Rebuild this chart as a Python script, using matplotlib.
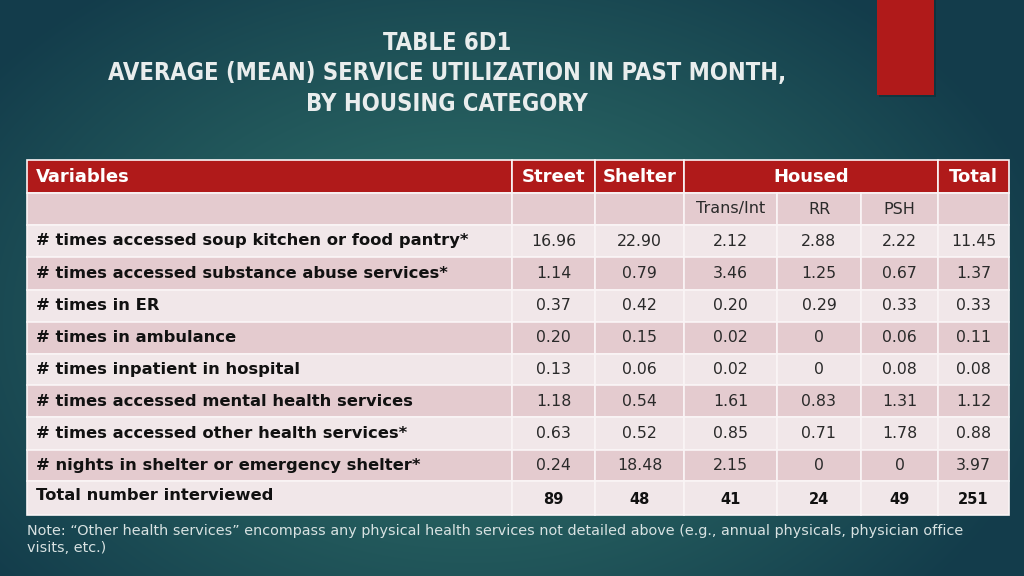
import numpy as np
import matplotlib
matplotlib.use("Agg")
import matplotlib.pyplot as plt
from matplotlib.patches import Rectangle
from matplotlib import font_manager

# ---------------- data ----------------
title_lines = ["TABLE 6D1",
               "AVERAGE (MEAN) SERVICE UTILIZATION IN PAST MONTH,",
               "BY HOUSING CATEGORY"]
variables = ["# times accessed soup kitchen or food pantry*",
             "# times accessed substance abuse services*",
             "# times in ER",
             "# times in ambulance",
             "# times inpatient in hospital",
             "# times accessed mental health services",
             "# times accessed other health services*",
             "# nights in shelter or emergency shelter*"]
street  = ["16.96", "1.14", "0.37", "0.20", "0.13", "1.18", "0.63", "0.24"]
shelter = ["22.90", "0.79", "0.42", "0.15", "0.06", "0.54", "0.52", "18.48"]
trans   = ["2.12", "3.46", "0.20", "0.02", "0.02", "1.61", "0.85", "2.15"]
rr      = ["2.88", "1.25", "0.29", "0", "0", "0.83", "0.71", "0"]
psh     = ["2.22", "0.67", "0.33", "0.06", "0.08", "1.31", "1.78", "0"]
total   = ["11.45", "1.37", "0.33", "0.11", "0.08", "1.12", "0.88", "3.97"]
total_label = "Total number interviewed"
n_interviewed = ["89", "48", "41", "24", "49", "251"]
header_top = ["Variables", "Street", "Shelter", "Housed", "Total"]
sub_header = ["Trans/Int", "RR", "PSH"]
note = ("Note: \u201cOther health services\u201d encompass any physical health services not detailed above (e.g., annual physicals, physician office\n"
        "visits, etc.)")

# ---------------- layout (pixels) ----------------
W, H = 1024, 576
fig = plt.figure(figsize=(W / 100, H / 100), dpi=100)
ax = fig.add_axes([0, 0, 1, 1])
ax.set_xlim(0, W)
ax.set_ylim(H, 0)
ax.axis("off")

# background radial gradient
yy, xx = np.mgrid[0:H, 0:W]
d = np.sqrt(((xx - 470) / 600.0) ** 2 + ((yy - 320) / 420.0) ** 2)
t = np.clip(d, 0, 1) ** 1.2
c_in = np.array([0x30, 0x72, 0x6A]) / 255
c_out = np.array([0x13, 0x3C, 0x4B]) / 255
img = c_in[None, None, :] * (1 - t[..., None]) + c_out[None, None, :] * t[..., None]
ax.imshow(img, extent=(0, W, H, 0), zorder=0, aspect="auto")

# red accent block with shadow
ax.add_patch(Rectangle((879, 0), 57, 97, color="#0d2a33", alpha=0.5, zorder=1, lw=0))
ax.add_patch(Rectangle((877, 0), 57, 95, color="#B01A1A", zorder=2, lw=0))

# title font: prefer a narrow face if available
avail = {f.name for f in font_manager.fontManager.ttflist}
if "Liberation Sans Narrow" in avail:
    tfam, tsize, tstretch = ["Liberation Sans Narrow", "DejaVu Sans"], 19, "normal"
else:
    tfam, tsize, tstretch = ["DejaVu Sans"], 17.0, "condensed"
for i, line in enumerate(title_lines):
    ax.text(447, 43 + i * 30.5, line, ha="center", va="center", color="#E9EDED",
            fontsize=tsize, fontweight="bold", family=tfam, fontstretch=tstretch,
            zorder=3)

# table geometry
xcols = [27, 512, 595, 684, 777, 861, 938, 1009]
row_edges = [160, 193, 225, 257, 290, 322, 354, 385, 417, 450, 481, 515]
light = "#F1E7E9"
dark = "#E4CBCF"
red = "#B01A1A"
grid = "#FAF5F6"
lw_gap = 1.2

def cell(x0, x1, y0, y1, color):
    ax.add_patch(Rectangle((x0, y0), x1 - x0, y1 - y0, facecolor=color,
                           edgecolor=grid, lw=lw_gap, zorder=3))

# header row
hy0, hy1 = row_edges[0], row_edges[1]
spans = [(0, 1), (1, 2), (2, 3), (3, 6), (6, 7)]
for (a, b), lab in zip(spans, header_top):
    cell(xcols[a], xcols[b], hy0, hy1, red)
    if a == 0:
        ax.text(xcols[0] + 9, (hy0 + hy1) / 2, lab, ha="left", va="center",
                color="white", fontsize=13, fontweight="bold", zorder=4)
    else:
        ax.text((xcols[a] + xcols[b]) / 2, (hy0 + hy1) / 2, lab, ha="center",
                va="center", color="white", fontsize=13, fontweight="bold", zorder=4)

# sub header row
sy0, sy1 = row_edges[1], row_edges[2]
for c in range(7):
    cell(xcols[c], xcols[c + 1], sy0, sy1, dark)
for j, lab in enumerate(sub_header):
    ax.text((xcols[3 + j] + xcols[4 + j]) / 2, (sy0 + sy1) / 2, lab, ha="center",
            va="center", color="#2a2a2a", fontsize=11.5, zorder=4)

# data rows
cols = [street, shelter, trans, rr, psh, total]
for i, var in enumerate(variables):
    y0, y1 = row_edges[2 + i], row_edges[3 + i]
    color = light if i % 2 == 0 else dark
    for c in range(7):
        cell(xcols[c], xcols[c + 1], y0, y1, color)
    ym = (y0 + y1) / 2
    ax.text(xcols[0] + 9, ym, var, ha="left", va="center", color="#111111",
            fontsize=11.8, fontweight="bold", zorder=4)
    for k, colvals in enumerate(cols):
        ax.text((xcols[1 + k] + xcols[2 + k]) / 2, ym, colvals[i], ha="center",
                va="center", color="#2a2a2a", fontsize=11.3, zorder=4)

# total row
y0, y1 = row_edges[10], row_edges[11]
for c in range(7):
    cell(xcols[c], xcols[c + 1], y0, y1, light)
ax.text(xcols[0] + 9, y0 + 15, total_label, ha="left", va="center", color="#111111",
        fontsize=11.8, fontweight="bold", zorder=4)
for k, v in enumerate(n_interviewed):
    ax.text((xcols[1 + k] + xcols[2 + k]) / 2, (y0 + y1) / 2 + 1, v, ha="center",
            va="center", color="#111111", fontsize=10.5, fontweight="bold", zorder=4)

# note
ax.text(27, 524, note, ha="left", va="top", color="#D8E2E2", fontsize=10.35,
        linespacing=1.25, zorder=4)

fig.savefig("out.png", dpi=100)
